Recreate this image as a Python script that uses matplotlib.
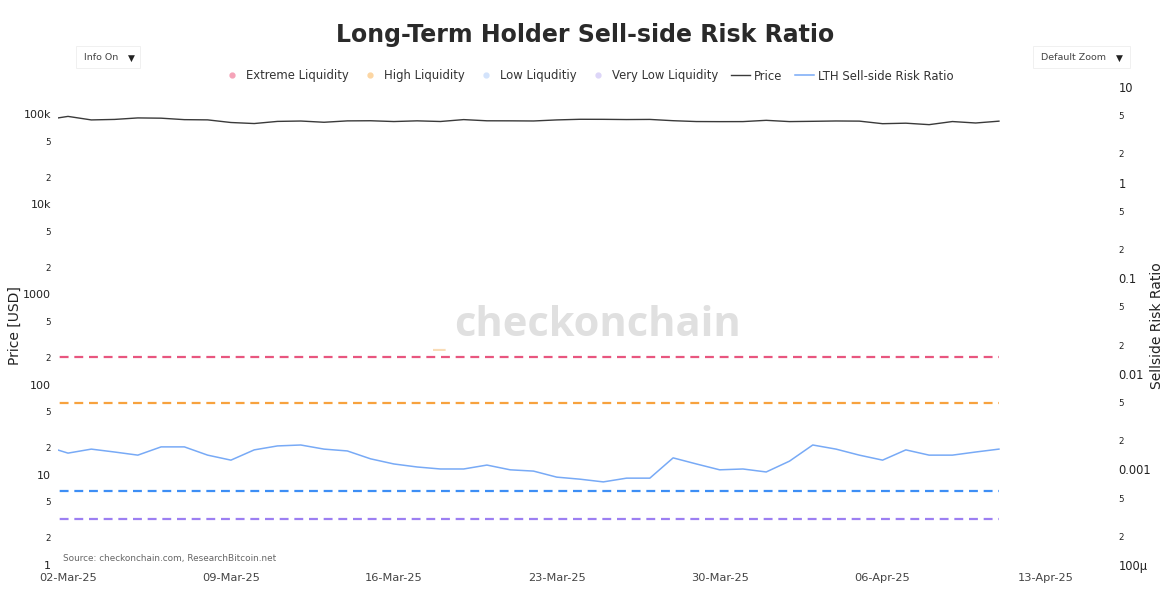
import numpy as np
import pandas as pd
import matplotlib
matplotlib.use("Agg")
import matplotlib.pyplot as plt
import matplotlib.dates as mdates
from matplotlib.lines import Line2D
from matplotlib.patches import Rectangle

# ---------- DATA ----------
dates = pd.date_range("2025-03-01", "2025-04-11", freq="D")

price = [86.0, 94.2, 86.1, 87.2, 90.6, 90.0, 86.7, 86.2, 80.6, 78.5,
         82.9, 83.7, 81.1, 84.0, 84.3, 82.6, 84.1, 82.7, 86.8, 84.2,
         84.1, 83.8, 86.1, 87.5, 87.4, 86.9, 87.2, 84.4, 82.6, 82.4,
         82.5, 85.2, 82.5, 83.1, 83.8, 83.5, 78.2, 79.2, 76.3, 82.6,
         79.6, 83.4]
price = [p * 1000 for p in price]

risk_ratio = [0.00176, 0.00148, 0.00163, 0.00152, 0.00141, 0.00172, 0.00172, 0.00141,
              0.00125, 0.00160, 0.00176, 0.00180, 0.00163, 0.00156, 0.00129, 0.00114,
              0.00106, 0.00101, 0.00101, 0.00111, 0.00099, 0.00096, 0.00083, 0.00079,
              0.00074, 0.00081, 0.00081, 0.00132, 0.00114, 0.00099, 0.00101, 0.00094,
              0.00122, 0.00180, 0.00163, 0.00141, 0.00125, 0.00160, 0.00141, 0.00141,
              0.00152, 0.00163]

band_names = ["Extreme Liquidity", "High Liquidity", "Low Liquditiy", "Very Low Liquidity"]
band_levels = [0.015, 0.005, 0.0006, 0.0003]
band_colors = ["#e8567f", "#f7a23e", "#3d8ef5", "#9c7ff2"]
band_legend_colors = ["#f5a3b8", "#fcd6a3", "#d3e3fb", "#ddd6f8"]

x_ticks = pd.date_range("2025-03-02", "2025-04-13", freq="7D")

left_major = [1, 10, 100, 1000, 1e4, 1e5]
left_major_labels = ["1", "10", "100", "1000", "10k", "100k"]
right_major = [1e-4, 1e-3, 1e-2, 1e-1, 1, 10]
right_major_labels = ["100\u03bc", "0.001", "0.01", "0.1", "1", "10"]

# ---------- FIGURE ----------
plt.rcParams["font.family"] = ["DejaVu Sans"]
fig = plt.figure(figsize=(11.7, 6.14), dpi=100)
ax = fig.add_axes([58 / 1170, 1 - 565 / 614, 1048 / 1170, 478 / 614])
ax2 = ax.twinx()

# price on left axis
ax.plot(dates, price, color="#3a3a3a", lw=1.0, zorder=3)
ax.set_yscale("log")
ax.set_ylim(1, 10 ** 5.3)

# thresholds + ratio on right axis
for lvl, col in zip(band_levels, band_colors):
    ax2.plot(dates, [lvl] * len(dates), color=col, lw=1.6, ls=(0, (4, 2.6)))
ax2.plot(dates, risk_ratio, color="#78aaf6", lw=1.1)
ax2.set_yscale("log")
ax2.set_ylim(1e-4, 10)

x0 = pd.Timestamp("2025-03-02") - pd.Timedelta(days=0.43)
x1 = pd.Timestamp("2025-03-02") + pd.Timedelta(days=44.6)
ax.set_xlim(x0, x1)

for a in (ax, ax2):
    for s in a.spines.values():
        s.set_visible(False)

ax.set_xticks(x_ticks)
ax.xaxis.set_major_formatter(mdates.DateFormatter("%d-%b-%y"))
ax.tick_params(axis="x", length=0, labelsize=8.2, colors="#444444", pad=6)


def minor_ticks(lo, hi):
    out = []
    d = lo
    while d < hi:
        out += [2 * d, 5 * d]
        d *= 10
    return [v for v in out if v <= hi * 1.0001]


lm = minor_ticks(1, 10 ** 5.3)
ax.set_yticks(left_major)
ax.set_yticklabels(left_major_labels)
ax.set_yticks(lm, minor=True)
ax.set_yticklabels(["2" if str(int(v))[0] == "2" else "5" for v in lm], minor=True)
ax.tick_params(axis="y", which="major", length=0, labelsize=8, colors="#222222", pad=5)
ax.tick_params(axis="y", which="minor", length=0, labelsize=6.3, colors="#222222", pad=5)

rm = minor_ticks(1e-4, 10)
ax2.set_yticks(right_major)
ax2.set_yticklabels(right_major_labels)
ax2.set_yticks(rm, minor=True)
ax2.set_yticklabels(["2" if f"{v:e}"[0] == "2" else "5" for v in rm], minor=True)
ax2.tick_params(axis="y", which="major", length=0, labelsize=8.3, colors="#222222", pad=9)
ax2.tick_params(axis="y", which="minor", length=0, labelsize=6.3, colors="#222222", pad=9)

ax.set_ylabel("Price [USD]", fontsize=10, color="#222222")
ax.yaxis.set_label_coords((22 - 58) / 1048, 0.5)
ax2.set_ylabel("Sellside Risk Ratio", fontsize=10, color="#222222")
ax2.yaxis.set_label_coords((1150 - 58) / 1048, 0.5)

# title
fig.text(0.5, 1 - 35 / 614, "Long-Term Holder Sell-side Risk Ratio", ha="center", va="center",
         fontsize=17, fontweight="bold", color="#2a2a2a")

# legend
handles = [Line2D([], [], ls="none", marker="o", ms=3.5, color=c, mec=c)
           for c in band_legend_colors]
handles += [Line2D([], [], color="#3a3a3a", lw=1.0),
            Line2D([], [], color="#78aaf6", lw=1.1)]
labels = band_names + ["Price", "LTH Sell-side Risk Ratio"]
fig.legend(handles, labels, loc="center", bbox_to_anchor=(588 / 1170, 1 - 76 / 614), ncol=6,
           frameon=False, fontsize=8.4, handlelength=1.6, handletextpad=0.4,
           columnspacing=1.05, labelcolor="#333333")

# watermark
fig.text(598 / 1170, 1 - 326 / 614, "checkonchain", ha="center", va="center",
         fontsize=30, fontweight="bold", family="Open Sans", color="#e0e0e0", zorder=0)
fig.text(439 / 1170, 1 - 338 / 614, "_", ha="center", va="center",
         fontsize=22, fontweight="bold", family="Open Sans", color="#f9dcb6", zorder=0)

# source
fig.text(63 / 1170, 1 - 558 / 614, "Source: checkonchain.com, ResearchBitcoin.net",
         ha="left", va="center", fontsize=6.4, color="#666666")

# dropdown buttons
for (bx, bw, label, arrow_x) in [(76, 64, "Info On", 131), (1033, 97, "Default Zoom", 1119)]:
    fig.patches.append(Rectangle((bx / 1170, 1 - 68 / 614), bw / 1170, 22 / 614,
                                 transform=fig.transFigure, fc="white", ec="#eeeeee", lw=0.6))
    fig.text((bx + 8) / 1170, 1 - 58 / 614, label, ha="left", va="center", fontsize=6.8,
             color="#444444")
    fig.text(arrow_x / 1170, 1 - 58 / 614, "\u25bc", ha="center", va="center", fontsize=6.5,
             color="#222222")

fig.savefig("out.png", dpi=100)
